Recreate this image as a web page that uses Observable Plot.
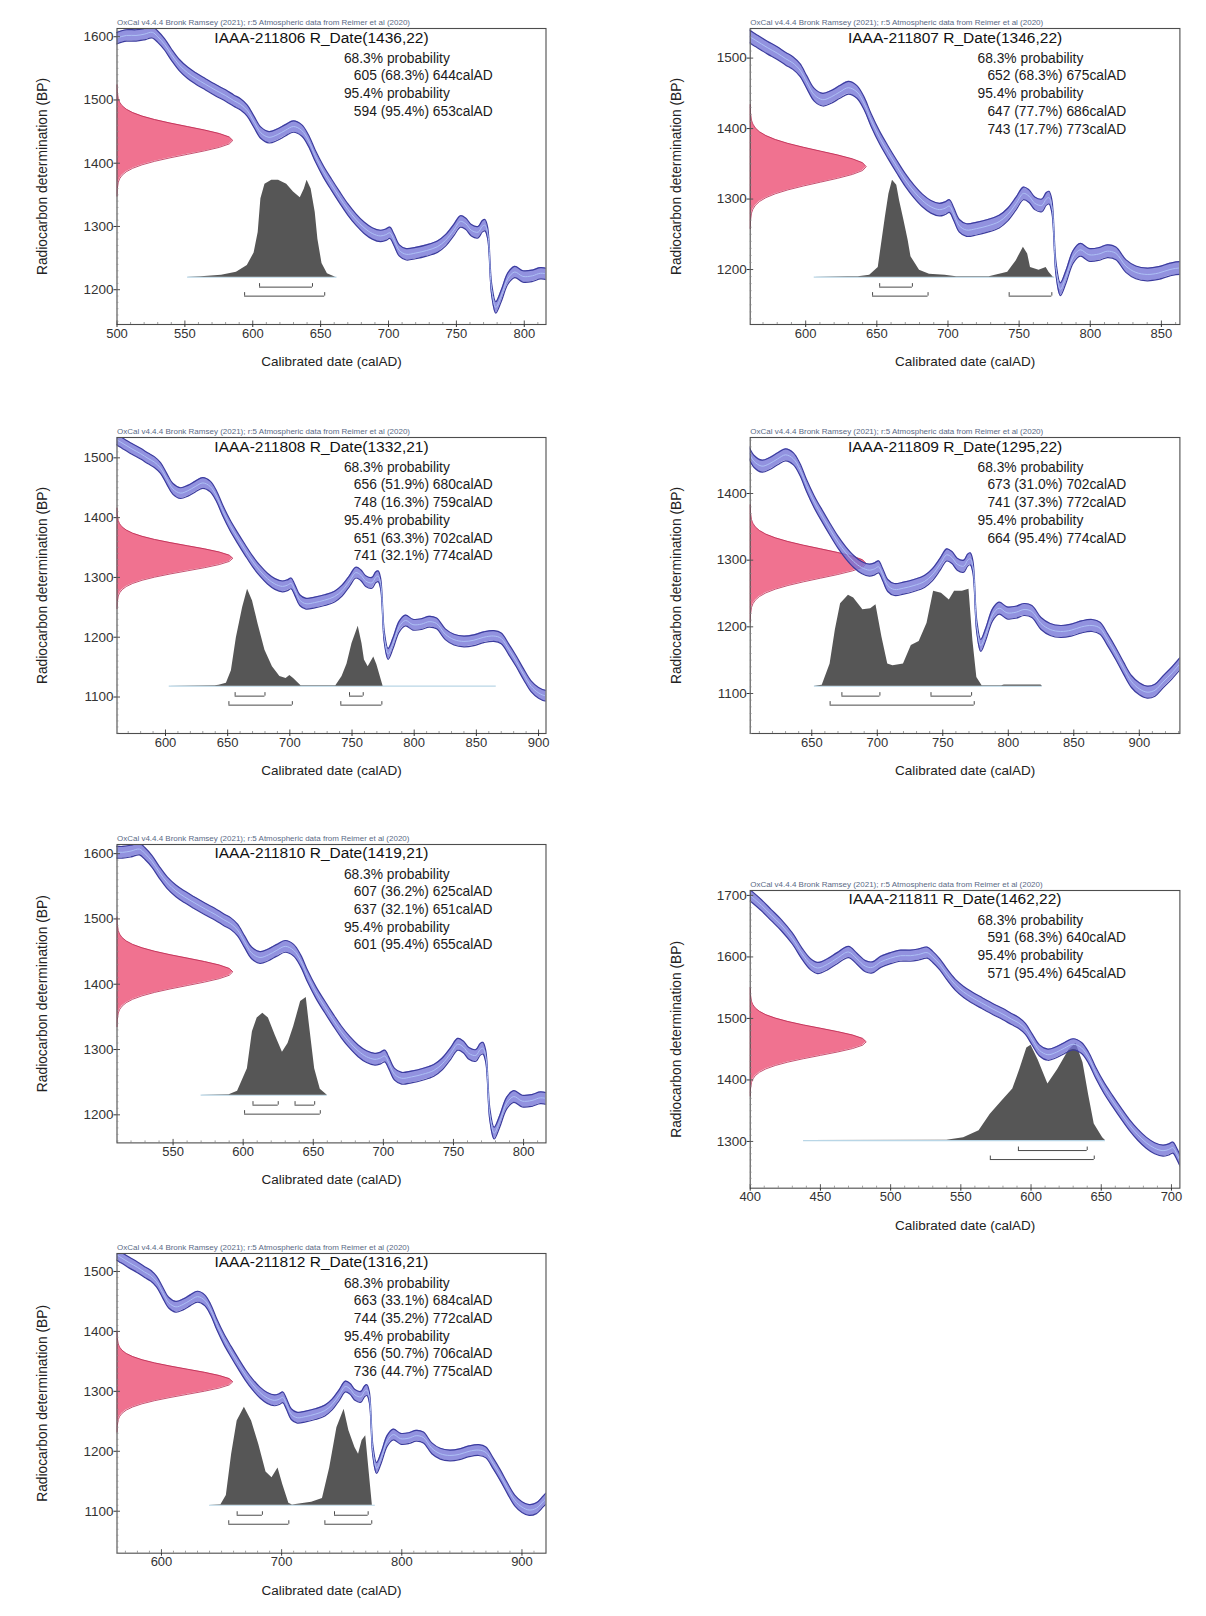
<!DOCTYPE html>
<html>
<head>
<meta charset="utf-8">
<script src="https://cdn.jsdelivr.net/npm/d3@7"></script>
<script src="https://cdn.jsdelivr.net/npm/@observablehq/plot@0.6"></script>
<style>
  html, body { margin: 0; padding: 0; background: #ffffff; }
  #root { position: relative; width: 1206px; height: 1616px; overflow: hidden; background: #ffffff; }
  #root svg { position: absolute; overflow: visible; }
</style>
</head>
<body>
<div id="root"></div>
<script>
// ---------------- DATA ----------------
// Calibration curve (IntCal20): calendar year AD, radiocarbon age BP
const curveYear = [400,408,415,422,430,437,443,448,455,462,470,476,482,487,493,500,507,514,520,526,530,535,540,546,552,558,565,573,580,586,591,596,601,606,612,618,624,630,636,641,646,652,658,664,670,676,682,688,694,698,701,704,708,713,720,728,736,742,748,753,757,761,766,769,771,773,776,779,783,788,793,799,806,812,818,825,832,840,848,856,864,870,876,882,888,894,900,906,912,918,925,932];
const curveBP   = [1700,1684,1668,1652,1630,1605,1588,1582,1588,1598,1608,1597,1585,1583,1592,1598,1602,1602,1604,1607,1600,1588,1572,1555,1543,1534,1525,1515,1507,1499,1493,1483,1465,1448,1441,1445,1452,1458,1452,1436,1412,1387,1366,1346,1327,1311,1298,1289,1285,1287,1290,1279,1262,1256,1258,1262,1268,1278,1294,1308,1304,1294,1291,1300,1302,1290,1200,1172,1190,1218,1228,1221,1222,1226,1223,1205,1196,1193,1195,1200,1202,1198,1180,1160,1138,1118,1107,1102,1105,1117,1131,1147];
const curveSigma = 9;

// Samples
const sampleIds = ["IAAA-211806","IAAA-211807","IAAA-211808","IAAA-211809","IAAA-211810","IAAA-211811","IAAA-211812"];
const rDateMean = [1436,1346,1332,1295,1419,1462,1316];
const rDateSd   = [22,22,21,22,21,22,21];

// Ranges: [from, to, percent]
const range68 = [
  [[605,644,68.3]],
  [[652,675,68.3]],
  [[656,680,51.9],[748,759,16.3]],
  [[673,702,31.0],[741,772,37.3]],
  [[607,625,36.2],[637,651,32.1]],
  [[591,640,68.3]],
  [[663,684,33.1],[744,772,35.2]]
];
const range95 = [
  [[594,653,95.4]],
  [[647,686,77.7],[743,773,17.7]],
  [[651,702,63.3],[741,774,32.1]],
  [[664,774,95.4]],
  [[601,655,95.4]],
  [[571,645,95.4]],
  [[656,706,50.7],[736,775,44.7]]
];

// Calibrated probability distributions (year AD, relative probability)
const dist806 = [[552,0],[562,0.005],[577,0.02],[588,0.05],[596,0.12],[601,0.25],[604,0.46],[606,0.81],[609,0.96],[614,1.0],[619,1.0],[625,0.96],[630,0.88],[635,0.82],[638,0.91],[640,1.0],[643,0.91],[646,0.67],[648,0.39],[651,0.14],[655,0.035],[661,0]];
const dist807 = [[606,0],[630,0.003],[637,0.005],[645,0.02],[651,0.1],[653,0.31],[656,0.62],[658.5,0.86],[661,1.0],[664,0.95],[666,0.79],[669,0.59],[672,0.38],[674,0.21],[680,0.07],[687,0.03],[698,0.02],[706,0.003],[729,0.003],[742,0.05],[748,0.17],[753,0.31],[756,0.24],[758,0.1],[764,0.07],[769,0.1],[771,0.05],[774,0]];
const dist808 = [[603,0],[640,0.003],[643,0.01],[649,0.03],[653,0.16],[657,0.5],[662,0.81],[666,1.0],[670,0.88],[674.5,0.64],[680,0.37],[686,0.2],[692,0.1],[697,0.08],[700,0.11],[703,0.08],[709,0.005],[737,0.005],[742,0.1],[746,0.23],[750,0.44],[755,0.62],[758,0.44],[760,0.27],[763,0.2],[767.5,0.3],[770,0.22],[775,0]];
const dist809 = [[652,0],[658,0.01],[664,0.23],[668,0.58],[672,0.85],[678,0.94],[682,0.91],[689,0.79],[695,0.8],[699,0.84],[703.5,0.51],[708,0.23],[712,0.21],[720,0.23],[726,0.42],[732,0.46],[738,0.65],[743,0.98],[749,0.96],[755,0.89],[759,0.98],[765,0.98],[770,1.0],[773,0.47],[776,0.09],[780,0.003],[795,0.003],[797,0.012],[825,0.012],[826,0]];
const dist810 = [[570,0],[590,0.003],[596,0.04],[603,0.27],[606.6,0.65],[610,0.79],[614,0.84],[618,0.79],[623,0.61],[628,0.44],[632,0.53],[636,0.7],[641,0.96],[645,1.0],[647,0.75],[651,0.27],[655,0.06],[660,0]];
const dist811 = [[438,0],[540,0.003],[552,0.03],[563,0.1],[571,0.27],[579,0.4],[587,0.53],[592,0.73],[597,0.95],[600,0.98],[605,0.83],[612,0.58],[619,0.73],[627,0.93],[632,1.0],[637,0.8],[641,0.47],[645,0.17],[651,0.03],[653,0]];
const dist812 = [[640,0],[649.5,0.005],[654,0.1],[658.4,0.52],[663,0.86],[669,1.0],[675,0.86],[681,0.62],[687,0.34],[692,0.28],[697,0.38],[701,0.21],[706,0.02],[709,0.003],[725,0.03],[734,0.07],[740,0.38],[746,0.79],[752,0.98],[756,0.76],[761,0.59],[764,0.52],[767,0.66],[770,0.71],[772,0.45],[775.5,0]];
const dists = [dist806, dist807, dist808, dist809, dist810, dist811, dist812];

// Extent of the faint baseline under each distribution (cal AD)
const baseExtent = [[552,662],[606,775],[603,866],[652,826],[570,660],[438,653],[640,778]];

// Normal shape of the radiocarbon determination (standard deviations, relative height)
const normalZ       = [-4,-3.5,-3,-2.75,-2.5,-2.25,-2,-1.75,-1.5,-1.25,-1,-0.75,-0.5,-0.25,0,0.25,0.5,0.75,1,1.25,1.5,1.75,2,2.25,2.5,2.75,3,3.5,4];
const normalDensity = [0.0003,0.0022,0.0111,0.0228,0.0439,0.0796,0.1353,0.2163,0.3247,0.4578,0.6065,0.7548,0.8825,0.9692,1,0.9692,0.8825,0.7548,0.6065,0.4578,0.3247,0.2163,0.1353,0.0796,0.0439,0.0228,0.0111,0.0022,0.0003];

// Axis domains and tick labels
const xDomains = [[500,816],[561,863],[561,906],[603,931],[510,816],[400,706],[563,920]];
const yDomains = [[1145,1613],[1122,1542],[1039,1534],[1040,1484],[1157,1614],[1224,1708],[1030,1530]];
const xTicks = [
  [500,550,600,650,700,750,800],
  [600,650,700,750,800,850],
  [600,650,700,750,800,850,900],
  [650,700,750,800,850,900],
  [550,600,650,700,750,800],
  [400,450,500,550,600,650,700],
  [600,700,800,900]
];
const yTicks = [
  [1200,1300,1400,1500,1600],
  [1200,1300,1400,1500],
  [1100,1200,1300,1400,1500],
  [1100,1200,1300,1400],
  [1200,1300,1400,1500,1600],
  [1300,1400,1500,1600,1700],
  [1100,1200,1300,1400,1500]
];

const headerText = "OxCal v4.4.4 Bronk Ramsey (2021); r:5 Atmospheric data from Reimer et al (2020)";
const xLabel = "Calibrated date (calAD)";
const yLabel = "Radiocarbon determination (BP)";

// ---------------- LAYOUT ----------------
const layout = [
  {left:116.5, right:545.5, top:27.5,  bottom:323.5,  col:0},
  {left:749.7, right:1179.4, top:27.5, bottom:323.5,  col:1},
  {left:116.5, right:545.5, top:437,   bottom:733,    col:0},
  {left:749.7, right:1179.4, top:437,  bottom:733,    col:1},
  {left:116.5, right:545.5, top:844.3, bottom:1142.7, col:0},
  {left:749.7, right:1179.4, top:890,  bottom:1187.7, col:1},
  {left:116.5, right:545.5, top:1253,  bottom:1552.7, col:0}
];

const FONT = "'Liberation Sans', Arial, Helvetica, sans-serif";
const curveData = curveYear.map((x, j) => ({x, y: curveBP[j]}));
const fmtRange = r => `${r[0]} (${r[2].toFixed(1)}%) ${r[1]}calAD`;

function makePanel(i) {
  const L = layout[i];
  const fw = L.right - L.left, fh = L.bottom - L.top;
  const svgLeft = L.col * 603, W = 603;
  const svgTop = L.top - 30, H = fh + 90;
  const [x0, x1] = xDomains[i], [y0, y1] = yDomains[i];
  const bpPx = (y1 - y0) / fh;
  const base = y0 + 0.16 * (y1 - y0);
  const peak = 0.327 * (y1 - y0);
  const pinkW = 0.27 * (x1 - x0);
  const sig = curveSigma;

  const dist = dists[i].map(([x, p]) => ({x, p}));
  const pink = normalZ.map((z, j) => ({y: rDateMean[i] + z * rDateSd[i], p: normalDensity[j]}));
  const brackets = [
    ...range68[i].map(r => ({from: r[0], to: r[1], row: 1})),
    ...range95[i].map(r => ({from: r[0], to: r[1], row: 2}))
  ];
  const rowY = row => base - (row === 1 ? 10 : 19) * bpPx;
  const ends = brackets.flatMap(b => [{x: b.from, row: b.row}, {x: b.to, row: b.row}]);

  const majorX = new Set(xTicks[i]);
  const minorX = d3.range(Math.ceil(x0 / 10) * 10, x1, 10).filter(v => !majorX.has(v));
  const majorY = new Set(yTicks[i]);
  const minorY = d3.range(Math.ceil(y0 / 10) * 10, y1, 10).filter(v => !majorY.has(v));

  const lines = [
    {t: "68.3% probability", ind: false},
    ...range68[i].map(r => ({t: fmtRange(r), ind: true})),
    {t: "95.4% probability", ind: false},
    ...range95[i].map(r => ({t: fmtRange(r), ind: true}))
  ];

  const marks = [
    // faint baseline of the calibrated range
    Plot.ruleY([base], {x1: baseExtent[i][0], x2: baseExtent[i][1], stroke: "#b9d6e6", strokeWidth: 1.2}),
    // calibrated distribution
    Plot.areaY(dist, {x: "x", y1: base, y2: d => base + d.p * peak, fill: "#565656"}),
    // radiocarbon determination (normal)
    Plot.areaX(pink, {y: "y", x1: x0, x2: d => x0 + d.p * pinkW, fill: "#ef6a8a", fillOpacity: 0.95}),
    Plot.lineX(pink, {y: "y", x: d => x0 + d.p * pinkW, stroke: "#b8264e", strokeWidth: 0.8}),
    // calibration curve band
    Plot.areaY(curveData, {x: "x", y1: d => d.y - sig, y2: d => d.y + sig, fill: "#7373d6", fillOpacity: 0.78, curve: "catmull-rom", clip: true}),
    Plot.line(curveData, {x: "x", y: d => d.y + sig, stroke: "#3c3c9e", strokeWidth: 1.2, curve: "catmull-rom", clip: true}),
    Plot.line(curveData, {x: "x", y: d => d.y - sig, stroke: "#3c3c9e", strokeWidth: 1.2, curve: "catmull-rom", clip: true}),
    Plot.line(curveData, {x: "x", y: "y", stroke: "#adc0f4", strokeWidth: 1, curve: "catmull-rom", clip: true}),
    // range brackets
    Plot.ruleY(brackets, {y: d => rowY(d.row), x1: "from", x2: "to", stroke: "#4a4a4a", strokeWidth: 1}),
    Plot.ruleX(ends, {x: "x", y1: d => rowY(d.row), y2: d => rowY(d.row) + 3.5 * bpPx, stroke: "#4a4a4a", strokeWidth: 1}),
    // frame & ticks
    Plot.frame({stroke: "#4d4d4d", strokeWidth: 1.1}),
    Plot.tickX(xTicks[i], {x: d => d, insetTop: fh - 3.5, stroke: "#555"}),
    Plot.tickX(minorX, {x: d => d, insetTop: fh - 2, stroke: "#777", strokeWidth: 0.7}),
    Plot.tickY(yTicks[i], {y: d => d, insetRight: fw - 3.5, stroke: "#555"}),
    Plot.tickY(minorY, {y: d => d, insetRight: fw - 2, stroke: "#888", strokeWidth: 0.6}),
    Plot.axisX(xTicks[i], {anchor: "bottom", tickSize: 3, tickPadding: 1, tickFormat: "d", label: null, color: "#333", fontSize: 13}),
    Plot.axisY(yTicks[i], {anchor: "left", tickSize: 3, tickPadding: 0.5, tickFormat: "d", label: null, color: "#333", fontSize: 13.5}),
    // texts
    Plot.text([headerText], {text: d => d, frameAnchor: "top-left", dy: -3.5, lineAnchor: "bottom", textAnchor: "start", fontSize: 8, fill: "#5a6a86"}),
    Plot.text([`${sampleIds[i]} R_Date(${rDateMean[i]},${rDateSd[i]})`], {text: d => d, frameAnchor: "top", dx: -10, dy: 14, lineAnchor: "bottom", textAnchor: "middle", fontSize: 15.5, fill: "#111"}),
    Plot.text([xLabel], {text: d => d, frameAnchor: "bottom", dy: 41.5, lineAnchor: "bottom", textAnchor: "middle", fontSize: 13.5, fill: "#222"}),
    Plot.text([yLabel], {text: d => d, frameAnchor: "left", dx: -74, rotate: -90, textAnchor: "middle", lineAnchor: "middle", fontSize: 13.8, fill: "#222"}),
    ...lines.map((ln, k) => Plot.text([ln.t], {
      text: d => d, frameAnchor: "top-left", dx: fw * (ln.ind ? 0.552 : 0.529), dy: 34.2 + 17.7 * k,
      lineAnchor: "bottom", textAnchor: "start", fontSize: 13.8, fill: "#1a1a1a"
    }))
  ];

  const svg = Plot.plot({
    width: W,
    height: H,
    marginLeft: L.left - svgLeft,
    marginRight: svgLeft + W - L.right,
    marginTop: 30,
    marginBottom: 60,
    x: {domain: [x0, x1], axis: null},
    y: {domain: [y0, y1], axis: null},
    style: {fontFamily: FONT, fontSize: "13px", background: "transparent", overflow: "visible"},
    marks
  });
  svg.style.left = svgLeft + "px";
  svg.style.top = svgTop + "px";
  return svg;
}

const root = document.getElementById("root");
for (let i = 0; i < sampleIds.length; i++) root.appendChild(makePanel(i));
</script>
</body>
</html>
